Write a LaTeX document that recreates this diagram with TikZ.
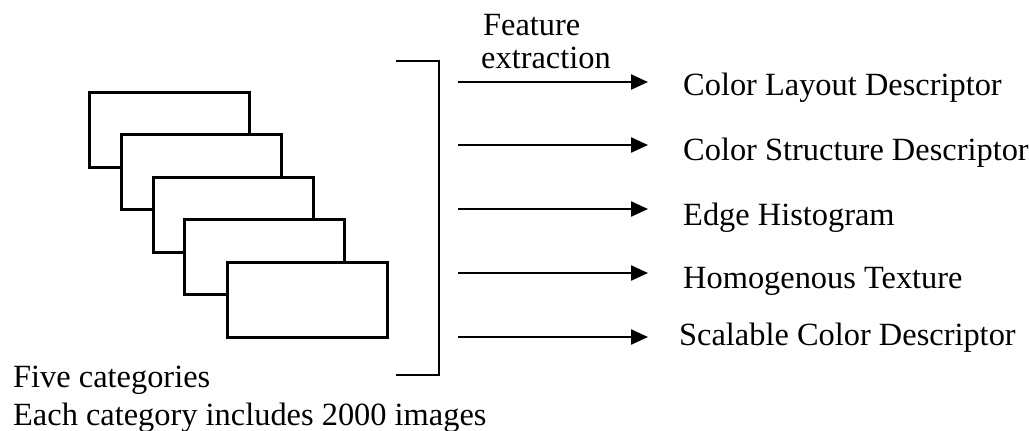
\documentclass[tikz,border=0pt]{standalone}
\usepackage{fontspec}
\setmainfont{Liberation Serif}
\usetikzlibrary{arrows.meta}

\begin{document}
\begin{tikzpicture}[x=1pt,y=-1pt,
  img/.style={draw,line width=3pt,fill=white,minimum width=160pt,minimum height=75pt,inner sep=0pt},
  feat/.style={-{Triangle[length=17pt,width=15pt]},line width=2.4pt,shorten >=35pt},
  desc/.style={anchor=base west,inner sep=0pt,font=\fontsize{32.4}{37}\selectfont}]
\useasboundingbox (0,0) rectangle (1029,431);
% Stack of image categories, the last one on top
\node[img] (img1) at (169,129.5) {};
\node[img] (img2) at (201,171.5) {};
\node[img] (img3) at (233,214.5) {};
\node[img] (img4) at (264.5,257) {};
\node[img] (img5) at (307,299.5) {};
\node[desc] (cat1) at (13,387) {Five categories};
\node[desc] (cat2) at (13,425) {Each category includes 2000 images};
% Bracket collecting the categories
\coordinate (bt) at (396,61);
\coordinate (bb) at (396,375);
\draw[line width=2pt] (bt) -| (439,375) -- (bb);
% Feature extraction arrows to the descriptors
\node[desc] (fe1) at (483,35) {Feature};
\node[desc] (fe2) at (481,68) {extraction};
\coordinate (s1) at (458,82);
\coordinate (s2) at (458,145);
\coordinate (s3) at (458,209);
\coordinate (s4) at (458,273);
\coordinate (s5) at (458,337);
\node[desc] (d1) at (683,95) {Color Layout Descriptor};
\node[desc] (d2) at (683,160) {Color Structure Descriptor};
\node[desc] (d3) at (683,225) {Edge Histogram};
\node[desc] (d4) at (683,288) {Homogenous Texture};
\node[desc] (d5) at (679,345) {Scalable Color Descriptor};
\draw[feat] (s1) -- (s1 -| d1.west);
\draw[feat] (s2) -- (s2 -| d2.west);
\draw[feat] (s3) -- (s3 -| d3.west);
\draw[feat] (s4) -- (s4 -| d4.west);
\draw[feat,shorten >=31pt] (s5) -- (s5 -| d5.west);
\end{tikzpicture}
\end{document}
